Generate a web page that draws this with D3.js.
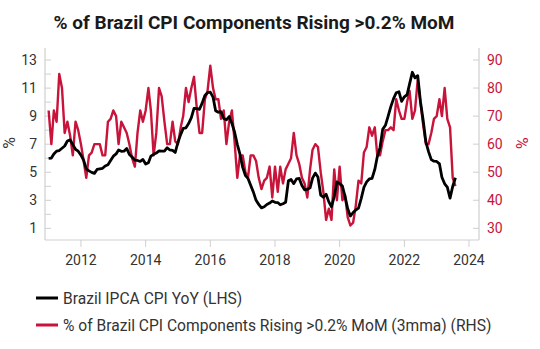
<!DOCTYPE html>
<html>
<head>
<meta charset="utf-8">
<script src="https://cdn.jsdelivr.net/npm/d3@7"></script>
<style>
  body { margin: 0; background: #fff; }
  svg { display: block; font-family: Roboto, "Noto Sans", sans-serif; }
</style>
</head>
<body>
<svg id="chart" width="540" height="349"></svg>
<script>
// monthly, Jan 2011 .. Aug 2023
var firstMonth = new Date(2011, 0, 1);

// Brazil IPCA CPI YoY, % (LHS)
var cpiYoY = [
  5.99, 6.01, 6.30, 6.51, 6.55, 6.71, 6.87, 7.23, 7.31, 6.97, 6.64, 6.50,
  6.22, 5.85, 5.24, 5.10, 4.99, 4.92, 5.20, 5.24, 5.28, 5.45, 5.53, 5.84,
  6.15, 6.31, 6.59, 6.49, 6.50, 6.70, 6.27, 6.09, 5.86, 5.84, 5.77, 5.91,
  5.59, 5.68, 6.15, 6.28, 6.37, 6.52, 6.50, 6.51, 6.75, 6.59, 6.56, 6.41,
  7.14, 7.70, 8.13, 8.17, 8.47, 8.89, 9.56, 9.53, 9.49, 9.93, 10.48, 10.67,
  10.71, 10.36, 9.39, 9.28, 9.32, 8.84, 8.74, 8.97, 8.48, 7.87, 6.99, 6.29,
  5.35, 4.76, 4.57, 4.08, 3.60, 3.00, 2.71, 2.46, 2.54, 2.70, 2.80, 2.95,
  2.86, 2.84, 2.68, 2.76, 2.86, 4.39, 4.48, 4.19, 4.53, 4.56, 4.05, 3.75,
  3.78, 3.89, 4.58, 4.94, 4.66, 3.37, 3.22, 3.43, 2.89, 2.54, 3.27, 4.31,
  4.19, 4.01, 3.30, 2.40, 1.88, 2.13, 2.31, 2.44, 3.14, 3.92, 4.31, 4.52,
  4.56, 5.20, 6.10, 6.76, 8.06, 8.35, 8.99, 9.68, 10.25, 10.67, 10.74, 10.06,
  10.38, 10.54, 11.30, 12.13, 11.73, 11.89, 10.07, 8.73, 7.17, 6.47, 5.90, 5.79,
  5.77, 5.60, 4.65, 4.18, 3.94, 3.16, 3.99, 4.61
];

// % of CPI components rising >0.2% MoM, 3mma (RHS)
var compRising = [
  72, 60, 72, 68, 85, 80, 64, 68, 63, 56, 68, 65,
  60, 54, 48, 56, 57, 60, 60, 60, 56, 56, 68, 69,
  72, 70, 60, 68, 66, 64, 60, 55, 52, 64, 72, 68,
  72, 80, 72, 56, 64, 80, 77, 68, 60, 60, 68, 61,
  60, 66, 70, 80, 75, 80, 84, 73, 64, 64, 76, 79,
  88, 80, 76, 76, 69, 72, 60, 68, 72, 61, 48, 56,
  56, 50, 48, 56, 56, 54, 48, 44, 47, 48, 52, 41,
  52, 43, 52, 46, 51, 53, 55, 64, 56, 53, 48, 46,
  41, 51, 58, 60, 59, 50, 43, 33, 37, 33, 51, 40,
  52, 40, 42, 34, 31, 32, 38, 47, 46, 57, 59, 66,
  63, 66, 56, 56, 61, 65, 65, 66, 65, 76, 72, 69,
  69, 75, 79, 69, 72, 83, 75, 67, 60, 60, 64, 69,
  70, 76, 70, 80, 69, 66, 48, 45
];

var leftTicks = [1, 3, 5, 7, 9, 11, 13];
var leftMinor = d3.range(1, 14);
var rightTicks = [30, 40, 50, 60, 70, 80, 90];
var yearTicks = [2012, 2014, 2016, 2018, 2020, 2022, 2024];

var title = "% of Brazil CPI Components Rising >0.2% MoM";
var seriesNames = ["Brazil IPCA CPI YoY (LHS)",
                   "% of Brazil CPI Components Rising >0.2% MoM (3mma) (RHS)"];

var red = "#c8133b",
    axisGrey = "#cfcfcf",
    textGrey = "#333";

var svg = d3.select("#chart");
var plot = { left: 45, right: 479, top: 48, bottom: 240 };

var months = cpiYoY.map(function(d, i) { return d3.timeMonth.offset(firstMonth, i); });

var x = d3.scaleTime()
  .domain([new Date(2010, 10, 21), new Date(2024, 3, 23)])
  .range([plot.left, plot.right]);
var yL = d3.scaleLinear().domain([0.17, 13.86]).range([plot.bottom, plot.top]);
var yR = d3.scaleLinear().domain([25.83, 94.28]).range([plot.bottom, plot.top]);

// title
svg.append("text")
  .attr("x", 254).attr("y", 29)
  .attr("text-anchor", "middle")
  .style("font-size", "19px").style("font-weight", "bold").style("fill", "#1a1a1a")
  .text(title);

// axes frame
svg.append("line")
  .attr("x1", plot.left).attr("x2", plot.left)
  .attr("y1", plot.top).attr("y2", plot.bottom)
  .attr("stroke", axisGrey).attr("stroke-width", 1.2);
svg.append("line")
  .attr("x1", plot.right).attr("x2", plot.right)
  .attr("y1", plot.top).attr("y2", plot.bottom)
  .attr("stroke", axisGrey).attr("stroke-width", 1.2);
svg.append("line")
  .attr("x1", plot.left).attr("x2", plot.right)
  .attr("y1", plot.bottom).attr("y2", plot.bottom)
  .attr("stroke", axisGrey).attr("stroke-width", 1.2);

// left ticks (every unit) and labels
svg.selectAll(".ltick").data(leftMinor).enter().append("line")
  .attr("class", "ltick")
  .attr("x1", plot.left).attr("x2", plot.left + 6)
  .attr("y1", function(d) { return yL(d); })
  .attr("y2", function(d) { return yL(d); })
  .attr("stroke", axisGrey);
svg.selectAll(".llab").data(leftTicks).enter().append("text")
  .attr("class", "llab")
  .attr("x", 37).attr("y", function(d) { return yL(d); })
  .attr("dy", "0.36em").attr("text-anchor", "end")
  .style("font-size", "14px").style("fill", textGrey)
  .text(function(d) { return d; });

// right ticks and labels
svg.selectAll(".rtick").data(rightTicks).enter().append("line")
  .attr("class", "rtick")
  .attr("x1", plot.right - 6).attr("x2", plot.right)
  .attr("y1", function(d) { return yR(d); })
  .attr("y2", function(d) { return yR(d); })
  .attr("stroke", axisGrey);
svg.selectAll(".rlab").data(rightTicks).enter().append("text")
  .attr("class", "rlab")
  .attr("x", 487).attr("y", function(d) { return yR(d); })
  .attr("dy", "0.36em")
  .style("font-size", "14px").style("fill", red)
  .text(function(d) { return d; });

// x ticks and labels
svg.selectAll(".xtick").data(yearTicks).enter().append("line")
  .attr("class", "xtick")
  .attr("x1", function(d) { return x(new Date(d, 0, 1)); })
  .attr("x2", function(d) { return x(new Date(d, 0, 1)); })
  .attr("y1", plot.bottom).attr("y2", plot.bottom + 7)
  .attr("stroke", axisGrey);
svg.selectAll(".xlab").data(yearTicks).enter().append("text")
  .attr("class", "xlab")
  .attr("x", function(d) { return x(new Date(d, 0, 1)); })
  .attr("y", 260).attr("dy", "0.36em")
  .attr("text-anchor", "middle")
  .style("font-size", "14px").style("fill", textGrey)
  .text(function(d) { return d; });

// % axis titles
svg.append("text")
  .attr("transform", "translate(9,143) rotate(-90)")
  .attr("text-anchor", "middle").attr("dy", "0.36em")
  .style("font-size", "16px").style("fill", textGrey)
  .text("%");
svg.append("text")
  .attr("transform", "translate(522,143) rotate(90)")
  .attr("text-anchor", "middle").attr("dy", "0.36em")
  .style("font-size", "16px").style("fill", red)
  .text("%");

// lines
var lineR = d3.line()
  .x(function(d, i) { return x(months[i]); })
  .y(function(d) { return yR(d); });
var lineL = d3.line()
  .x(function(d, i) { return x(months[i]); })
  .y(function(d) { return yL(d); });

svg.append("path")
  .datum(compRising)
  .attr("d", lineR)
  .attr("fill", "none").attr("stroke", red)
  .attr("stroke-width", 2.4).attr("stroke-linejoin", "round");
svg.append("path")
  .datum(cpiYoY)
  .attr("d", lineL)
  .attr("fill", "none").attr("stroke", "#000")
  .attr("stroke-width", 2.8).attr("stroke-linejoin", "round");

// legend
var legend = svg.selectAll(".leg").data(seriesNames).enter().append("g")
  .attr("class", "leg")
  .attr("transform", function(d, i) { return "translate(36," + (298 + i * 27) + ")"; });
legend.append("line")
  .attr("x1", 0).attr("x2", 22)
  .attr("stroke", function(d, i) { return i === 0 ? "#000" : red; })
  .attr("stroke-width", 3);
legend.append("text")
  .attr("x", 27).attr("dy", "0.36em")
  .style("font-size", "15.6px").style("fill", textGrey)
  .text(function(d) { return d; });
</script>
</body>
</html>
